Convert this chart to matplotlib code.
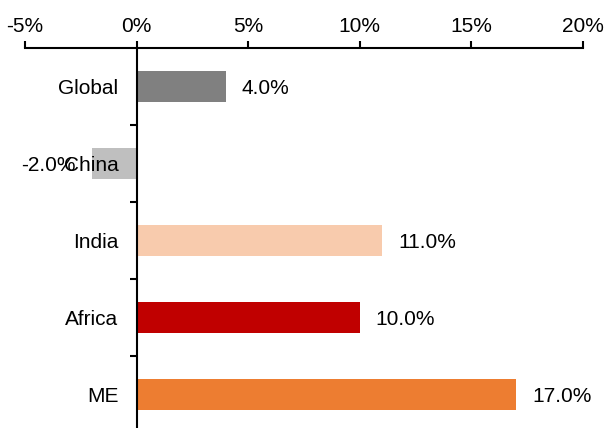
import matplotlib
matplotlib.use("Agg")
import matplotlib.pyplot as plt
from matplotlib.ticker import FuncFormatter, FixedLocator

plt.rcParams['font.family'] = ['Liberation Sans', 'DejaVu Sans']

regions = ["Global", "China", "India", "Africa", "ME"]
growth = [4.0, -2.0, 11.0, 10.0, 17.0]
colors = ["#808080", "#BFBFBF", "#F8CBAD", "#C00000", "#ED7D31"]
x_ticks = [-5, 0, 5, 10, 15, 20]

fig = plt.figure(figsize=(6.04, 4.28), dpi=100)
ax = fig.add_axes([25 / 604, -5 / 428, 558 / 604, 385 / 428])

pos = list(range(len(regions)))
ax.barh(pos, growth, height=0.4, color=colors, zorder=1)
ax.set_axisbelow(False)

ax.set_xlim(-5, 20)
ax.set_ylim(len(regions) - 0.5, -0.5)

# x axis on top
ax.xaxis.set_ticks_position('top')
ax.xaxis.set_label_position('top')
ax.set_xticks(x_ticks)
ax.xaxis.set_major_formatter(FuncFormatter(lambda v, p: f"{v:.0f}%"))
ax.tick_params(axis='x', direction='out', length=5, width=1.5, pad=3.5,
               labelsize=15, colors='black')

# y axis through zero
for s in ['right', 'bottom']:
    ax.spines[s].set_visible(False)
ax.spines['left'].set_position(('data', 0))
ax.spines['left'].set_linewidth(1.5)
ax.spines['top'].set_linewidth(1.5)
ax.set_yticks(pos)
ax.set_yticklabels(regions)
ax.yaxis.set_minor_locator(FixedLocator([p + 0.5 for p in pos[:-1]]))
ax.tick_params(axis='y', which='major', length=0, pad=13, labelsize=15)
ax.tick_params(axis='y', which='minor', length=5, width=1.5, direction='out')

for p, v in zip(pos, growth):
    off = 11.5 if v >= 0 else -12
    ax.annotate(f"{v:.1f}%", xy=(v, p), xytext=(off, -1.5), textcoords='offset points',
                ha='left' if v >= 0 else 'right', va='center', fontsize=15, zorder=3)

fig.savefig("out.png", dpi=100)
